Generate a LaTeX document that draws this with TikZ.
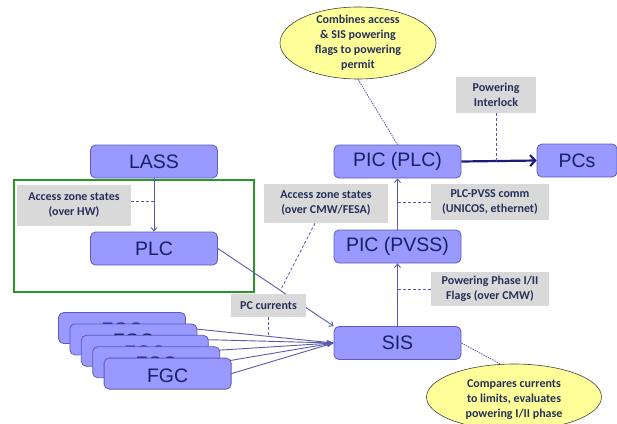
\documentclass[tikz,border=0pt]{standalone}
\usepackage{fontspec}
\usepackage{tikz}
\usetikzlibrary{arrows.meta, shapes.geometric}
\newfontfamily\boxfont{Liberation Sans}
\newfontfamily\notefont{Carlito}
\definecolor{blockfill}{RGB}{153, 153, 255}
\definecolor{blockline}{RGB}{92, 92, 184}
\definecolor{blocktext}{RGB}{30, 30, 100}
\definecolor{labelfill}{RGB}{217, 217, 217}
\definecolor{labeltext}{RGB}{38, 48, 88}
\definecolor{notefill}{RGB}{255, 255, 153}
\definecolor{wirecol}{RGB}{90, 90, 170}
\definecolor{permitcol}{RGB}{28, 28, 120}
\definecolor{zonecol}{RGB}{40, 150, 40}

\begin{document}
\begin{tikzpicture}[x=1pt, y=-1pt,
		block/.style={draw=blockline, fill=blockfill, rounded corners=5pt, line width=0.8pt,
			minimum width=127pt, minimum height=33pt, inner sep=0pt, text=blocktext,
			font=\boxfont\fontsize{19.5}{22}\selectfont},
		tag/.style={fill=labelfill, inner sep=0pt, align=center, text=labeltext,
			font=\notefont\bfseries\fontsize{12}{15}\selectfont},
		note/.style={ellipse, draw=black!75, fill=notefill, line width=0.6pt, inner sep=0pt},
		notetext/.style={align=center, text=labeltext, font=\notefont\bfseries\fontsize{12}{15}\selectfont},
		wire/.style={draw=wirecol, line width=0.9pt, -{Straight Barb[length=3.5pt,width=6pt]}},
		fan/.style={draw=wirecol, line width=0.9pt, -{Stealth[length=7pt,width=5pt]}},
		hint/.style={draw=wirecol, line width=0.8pt, dash pattern=on 3pt off 2pt}]
			\useasboundingbox (0, 0) rectangle (617, 423);
			
			% access zone frame
			\draw[zonecol, line width=1.3pt] (14, 180) rectangle (254, 292);
			
			% blocks
			\node[block] (lass)    at (154, 161.5) {LASS};
			\node[block] (plc)     at (154, 248.5) {PLC};
			\node[block] (picplc)  at (397.5, 161.5) {PIC (PLC)};
			\node[block, minimum width=80pt] (pcs) at (577, 160.5) {PCs};
			\node[block] (picpvss) at (397.5, 246.5) {PIC (PVSS)};
			\node[block] (sis)     at (397.5, 343) {SIS};
			
			% FGC stack
			\foreach \i in {1,...,5} {
				\node[block, minimum height=31pt, text height=17pt, text depth=0pt] (fgc\i)
					at ({122+11.4*(\i-1)}, {328+11.4*(\i-1)}) {FGC};
				\draw[fan] (fgc\i.east) -- (sis.west);
			}
			
			% links
			\draw[wire] (lass.south) -- coordinate[pos=0.43] (hwpt) (plc.north);
			\draw[wire] (plc.east) -- coordinate[pos=0.54] (cmwpt) (sis.north west);
			\draw[wire] (sis.north) -- (picpvss.south);
			\draw[wire] (picpvss.north) -- (picplc.south);
			\draw[permitcol, line width=2.2pt, -{Straight Barb[length=5pt,width=11pt]}] (picplc.east) -- (pcs.west);
			\path (fgc1.east) -- coordinate[pos=0.55] (fanpt) (sis.west);
			
			% labels
			\node[tag, minimum width=114pt, minimum height=41pt] (hwlbl) at (74, 205) {Access zone states\\(over HW)};
			\node[tag, minimum width=124pt, minimum height=39pt] (cmwlbl) at (326, 203.5) {Access zone states\\(over CMW/FESA)};
			\node[tag, minimum width=118pt, minimum height=36pt] (commlbl) at (490, 202) {PLC-PVSS comm\\(UNICOS, ethernet)};
			\node[tag, minimum width=118pt, minimum height=34pt] (flaglbl) at (490, 289) {Powering Phase I/II\\Flags (over CMW)};
			\node[tag, minimum width=75pt, minimum height=23pt] (pclbl) at (268.5, 305.5) {PC currents};
			\node[tag, minimum width=80pt, minimum height=36pt] (lockslbl) at (496, 95) {Powering\\Interlock};
			
			\draw[hint] (hwlbl.east |- hwpt) -- (hwpt);
			\draw[hint] ([xshift=-11pt]cmwlbl.south) -- (cmwpt);
			\draw[hint] (commlbl.west) -- (commlbl.west -| picpvss);
			\draw[hint] (flaglbl.west) -- (flaglbl.west -| sis);
			\draw[hint] (pclbl.south) -- (pclbl.south |- fanpt);
			\draw[hint] (lockslbl.south) -- (lockslbl.south |- picplc.east);
			
			% notes
			\node[note, minimum width=156pt, minimum height=72pt] (topnote) at (358, 43) {};
			\node[notetext] at (topnote) {Combines access\\\& SIS powering\\flags to powering\\permit};
			\node[note, minimum width=175pt, minimum height=66pt] (botnote) at (514, 397) {};
			\node[notetext] at (514, 400) {Compares currents\\to limits, evaluates\\powering I/II phase};
			
			\draw[hint, dash pattern=on 1.5pt off 1pt] (topnote.south) -- (picplc.north);
			\draw[hint, dash pattern=on 1.5pt off 1pt] (sis.east) -- (botnote.112);
		\end{tikzpicture}
\end{document}
